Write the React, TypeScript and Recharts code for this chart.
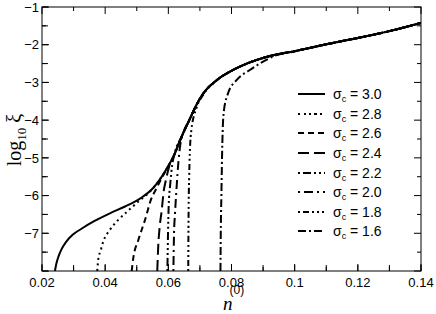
import { Legend, Line, LineChart, XAxis, YAxis } from 'recharts'

type Pt = [number, number]

// sigma_c curves as [n(0), log10 xi]
const sigma30: Pt[] = [
  [0.0241, -8], [0.0245, -7.82], [0.0252, -7.62], [0.0262, -7.42], [0.0277, -7.22], [0.0297, -7.04],
  [0.0325, -6.88], [0.0365, -6.68], [0.0415, -6.47], [0.0463, -6.29], [0.051, -6.08], [0.0552, -5.8],
  [0.0575, -5.55], [0.0595, -5.28], [0.0616, -4.97], [0.0642, -4.44], [0.0668, -3.97], [0.069, -3.58],
  [0.0711, -3.29], [0.0753, -2.94], [0.0805, -2.67], [0.0858, -2.47], [0.0922, -2.3], [0.1, -2.17],
  [0.11, -1.99], [0.12, -1.82], [0.13, -1.64], [0.14, -1.42],
]
const sigma28: Pt[] = [
  [0.0375, -8], [0.0378, -7.7], [0.0386, -7.45], [0.0394, -7.22], [0.0415, -6.91], [0.0441, -6.65],
  [0.0473, -6.4], [0.0505, -6.16], [0.0535, -5.95], [0.0562, -5.7], [0.0585, -5.42], [0.0616, -4.97],
  [0.0642, -4.44], [0.0668, -3.97], [0.069, -3.58], [0.0711, -3.29], [0.0753, -2.94], [0.0805, -2.67],
  [0.0858, -2.47], [0.0922, -2.3], [0.1, -2.17], [0.11, -1.99], [0.12, -1.82], [0.13, -1.64], [0.14, -1.42],
]
const sigma26: Pt[] = [
  [0.0484, -8], [0.0489, -7.66], [0.0505, -7.18], [0.0526, -6.65], [0.0545, -6.11], [0.0563, -5.8],
  [0.0578, -5.55], [0.0596, -5.28], [0.0616, -4.97], [0.0642, -4.44], [0.0668, -3.97], [0.069, -3.58],
  [0.0711, -3.29], [0.0753, -2.94], [0.0805, -2.67], [0.0858, -2.47], [0.0922, -2.3], [0.1, -2.17],
  [0.11, -1.99], [0.12, -1.82], [0.13, -1.64], [0.14, -1.42],
]
const sigma24: Pt[] = [
  [0.0565, -8], [0.0568, -7.35], [0.0573, -6.8], [0.0579, -6.4], [0.0585, -5.9], [0.0592, -5.6],
  [0.0603, -5.22], [0.0618, -4.93], [0.0642, -4.44], [0.0668, -3.97], [0.069, -3.58], [0.0711, -3.29],
  [0.0753, -2.94], [0.0805, -2.67], [0.0858, -2.47], [0.0922, -2.3], [0.1, -2.17], [0.11, -1.99],
  [0.12, -1.82], [0.13, -1.64], [0.14, -1.42],
]
const sigma22: Pt[] = [
  [0.0597, -8], [0.0599, -7], [0.0601, -6.3], [0.0606, -5.7], [0.0612, -5.2], [0.062, -4.88],
  [0.0642, -4.44], [0.0668, -3.97], [0.069, -3.58], [0.0711, -3.29], [0.0753, -2.94], [0.0805, -2.67],
  [0.0858, -2.47], [0.0922, -2.3], [0.1, -2.17], [0.11, -1.99], [0.12, -1.82], [0.13, -1.64], [0.14, -1.42],
]
const sigma20: Pt[] = [
  [0.0616, -8], [0.0618, -7], [0.0621, -6.5], [0.0626, -5.8], [0.0632, -5.1], [0.0638, -4.65],
  [0.0646, -4.37], [0.0668, -3.97], [0.069, -3.58], [0.0711, -3.29], [0.0753, -2.94], [0.0805, -2.67],
  [0.0858, -2.47], [0.0922, -2.3], [0.1, -2.17], [0.11, -1.99], [0.12, -1.82], [0.13, -1.64], [0.14, -1.42],
]
const sigma18: Pt[] = [
  [0.0663, -8], [0.0664, -6.56], [0.0666, -5.5], [0.0668, -4.87], [0.0673, -4.26], [0.0689, -3.68],
  [0.0711, -3.32], [0.0753, -2.95], [0.0805, -2.67], [0.0858, -2.47], [0.0922, -2.3], [0.1, -2.17],
  [0.11, -1.99], [0.12, -1.82], [0.13, -1.64], [0.14, -1.42],
]
const sigma16: Pt[] = [
  [0.0765, -8], [0.0766, -7], [0.0768, -6], [0.077, -5], [0.0772, -4.3], [0.0776, -3.75],
  [0.0789, -3.29], [0.0816, -2.94], [0.0858, -2.67], [0.09, -2.45], [0.0935, -2.3], [0.1, -2.18],
  [0.11, -1.99], [0.12, -1.82], [0.13, -1.64], [0.14, -1.42],
]

const sigmaLabels = ['3.0', '2.8', '2.6', '2.4', '2.2', '2.0', '1.8', '1.6']
const sigmaCurves = [sigma30, sigma28, sigma26, sigma24, sigma22, sigma20, sigma18, sigma16]
const dashes = ['', '2 3.5', '6 4', '11 5', '2 3 8 3 2 3 2 3', '2 4 9 4', '2 3 6 3 2 3 2 3', '8 3 2 3']

const xDomain: [number, number] = [0.02, 0.14]
const yDomain: [number, number] = [-8, -1]
const xTicks = [0.02, 0.03, 0.04, 0.05, 0.06, 0.07, 0.08, 0.09, 0.1, 0.11, 0.12, 0.13, 0.14]
const yTicks = [-8, -7.5, -7, -6.5, -6, -5.5, -5, -4.5, -4, -3.5, -3, -2.5, -2, -1.5, -1]
const yLabels = [-7, -6, -5, -4, -3, -2, -1]

const sans = '"Liberation Sans", Arial, sans-serif'
const serif = '"Liberation Serif", "Times New Roman", serif'

// chart box: the plot area follows from these margins and axis sizes
const W = 436, H = 314
const M = { top: 7, right: 15, bottom: 0, left: 0 }
const Y_AXIS_W = 42, X_AXIS_H = 43
const plot = { left: M.left + Y_AXIS_W, top: M.top, right: W - M.right, bottom: H - M.bottom - X_AXIS_H }

const isMajorX = (v: number) => Math.abs(v * 50 - Math.round(v * 50)) < 1e-6
const isMajorY = (v: number) => Number.isInteger(v)

// tick props land 4px outside the axis line (tickSize -6, tickMargin 10)
const OUT = 4

function BottomTick(props: any) {
  const x = Number(props.x), y = Number(props.y) - OUT
  const v = props.payload.value as number
  if (!isMajorX(v)) return <g />
  return <text x={x} y={y + 16} textAnchor="middle" fontFamily={sans} fontSize={13} fill="#000">{Number(v.toFixed(2)).toString()}</text>
}

function LeftTick(props: any) {
  const x = Number(props.x) + OUT, y = Number(props.y)
  const v = props.payload.value as number
  if (!yLabels.includes(v)) return <g />
  return <text x={x - 3} y={y} dy="0.36em" textAnchor="end" fontFamily={sans} fontSize={13} fill="#000">{'\u2212' + Math.abs(v)}</text>
}

// the inward tick marks and the closed frame, laid over the chart on the same box and domains
function Frame() {
  const px = (v: number) => plot.left + (v - xDomain[0]) / (xDomain[1] - xDomain[0]) * (plot.right - plot.left)
  const py = (v: number) => plot.top + (yDomain[1] - v) / (yDomain[1] - yDomain[0]) * (plot.bottom - plot.top)
  return <svg width={W} height={H} style={{ position: 'absolute', left: 0, top: 0, pointerEvents: 'none' }}>
    <rect x={plot.left} y={plot.top} width={plot.right - plot.left} height={plot.bottom - plot.top} fill="none" stroke="#000" />
    {xTicks.map((v) => {
      const len = isMajorX(v) ? 7 : 4
      return <g key={'x' + v}>
        <line x1={px(v)} y1={plot.bottom} x2={px(v)} y2={plot.bottom - len} stroke="#000" />
        <line x1={px(v)} y1={plot.top} x2={px(v)} y2={plot.top + len} stroke="#000" />
      </g>
    })}
    {yTicks.map((v) => {
      const len = isMajorY(v) ? 7 : 4
      return <g key={'y' + v}>
        <line x1={plot.left} y1={py(v)} x2={plot.left + len} y2={py(v)} stroke="#000" />
        <line x1={plot.right} y1={py(v)} x2={plot.right - len} y2={py(v)} stroke="#000" />
      </g>
    })}
  </svg>
}

// legend line samples as css stripes following the same dash pattern
function dashBackground(dash: string) {
  if (!dash) return '#000'
  let pos = 0
  const stops = dash.split(' ').map(Number).map((len, i) => {
    const s = `${i % 2 === 0 ? '#000' : 'transparent'} ${pos}px ${pos + len}px`
    pos += len
    return s
  })
  return `repeating-linear-gradient(90deg, ${stops.join(', ')})`
}

function SigmaLegend() {
  return <div style={{ fontFamily: sans, fontSize: 14, color: '#000' }}>
    {sigmaLabels.map((label, i) => <div key={label} style={{ display: 'flex', alignItems: 'center', height: 19.6 }}>
      <div style={{ width: 27, height: 2, background: dashBackground(dashes[i]) }} />
      <span style={{ marginLeft: 8, whiteSpace: 'nowrap' }}>σ<span style={{ fontSize: 9, position: 'relative', top: 3 }}>c</span> = {label}</span>
    </div>)}
  </div>
}

function YTitle({ viewBox }: any) {
  const cx = viewBox.x + 14
  const cy = viewBox.y + viewBox.height / 2 + 1
  return <text x={cx} y={cy} transform={`rotate(-90, ${cx}, ${cy})`} textAnchor="middle" dy="0.35em" fontFamily={serif} fontSize={20} fill="#000">
    log<tspan fontSize={13} dy={5}>10</tspan><tspan dy={-5}> ξ</tspan>
  </text>
}

function XTitle({ viewBox }: any) {
  const x = viewBox.x + viewBox.width / 2 - 8.5
  return <g>
    <text x={x} y={viewBox.y + 39} fontFamily={serif} fontStyle="italic" fontSize={19} fill="#000">n</text>
    <text x={x + 6.5} y={viewBox.y + 23} fontFamily={sans} fontSize={12} fill="#000">(0)</text>
  </g>
}

export default function App() {
  return <div style={{ position: 'relative', width: W, height: H, background: '#fff' }}>
    <style>{'body{margin:0}'}</style>
    <LineChart width={W} height={H} margin={M}>
      <XAxis dataKey="n" type="number" domain={xDomain} ticks={xTicks} interval={0} allowDataOverflow
        height={X_AXIS_H} tickSize={-6} tickMargin={10} axisLine={false} tickLine={{ stroke: '#000' }}
        tick={(p: any) => <BottomTick {...p} />} label={(p: any) => <XTitle {...p} />} />
      <YAxis type="number" domain={yDomain} ticks={yTicks} interval={0} allowDataOverflow
        width={Y_AXIS_W} tickSize={-6} tickMargin={10} axisLine={false} tickLine={{ stroke: '#000' }}
        tick={(p: any) => <LeftTick {...p} />} label={(p: any) => <YTitle {...p} />} />
      <Legend layout="vertical" align="center" verticalAlign="middle" content={() => <SigmaLegend />}
        wrapperStyle={{ left: 298, top: 84.5, width: 120, height: 160 }} />
      {sigmaCurves.map((curve, i) => <Line key={sigmaLabels[i]}
        data={curve.map(([n, y]) => ({ n, y }))} dataKey="y" type="monotone" stroke="#000" strokeWidth={2}
        strokeDasharray={dashes[i] || undefined} dot={false} activeDot={false} isAnimationActive={false} />)}
    </LineChart>
    <Frame />
  </div>
}
